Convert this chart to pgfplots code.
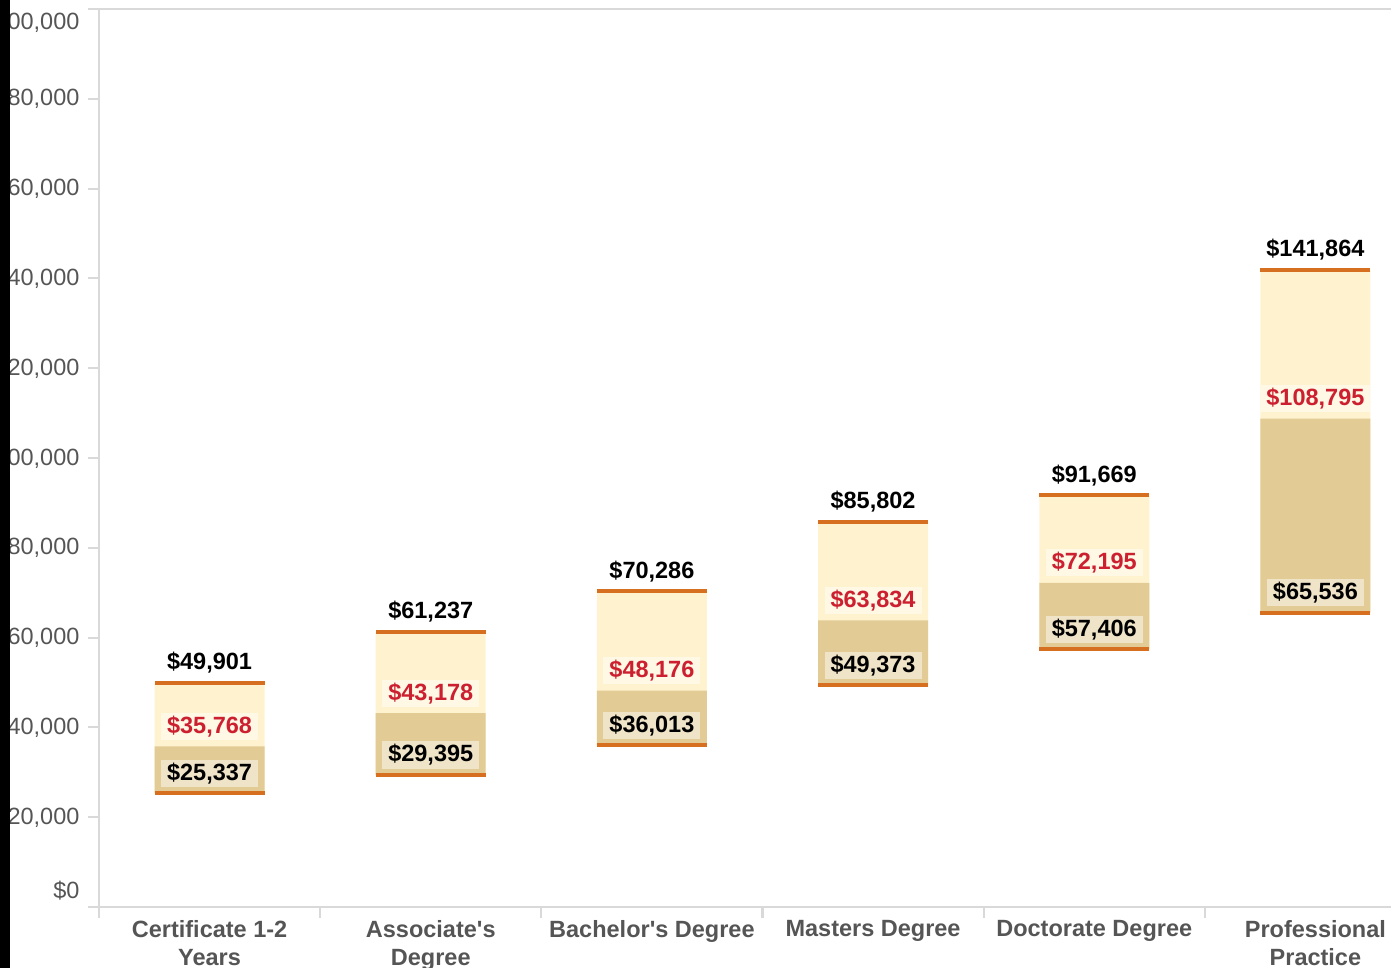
\documentclass[border=0pt]{standalone}
\usepackage{fontspec}
\setmainfont{Liberation Sans}
\usepackage{pgfplots}
\usepackage{pgfplotstable}
\pgfplotsset{compat=1.18}
\definecolor{cream}{RGB}{255,242,206}
\definecolor{tanb}{RGB}{227,203,150}
\definecolor{orng}{RGB}{214,112,32}
\definecolor{medred}{RGB}{204,32,48}
\definecolor{axgray}{RGB}{217,217,217}
\definecolor{lblgray}{RGB}{85,85,85}
\definecolor{lowbg}{RGB}{240,228,200}
\definecolor{medbg}{RGB}{255,248,228}

\pgfplotstableread{
x low med high
0 25337 35768 49901
1 29395 43178 61237
2 36013 48176 70286
3 49373 63834 85802
4 57406 72195 91669
5 65536 108795 141864
}\salary

\newcommand{\lblfont}{\fontsize{11.75}{14}\selectfont\bfseries}
\pgfkeys{/pgf/number format/.cd, fixed, precision=0, 1000 sep={,}, assume math mode=true}

\begin{document}
\begin{tikzpicture}
\begin{axis}[name=ax, scale only axis, width=663.5pt, height=449pt,
  xmin=-0.5, xmax=5.5, ymin=0, ymax=200000,
  axis on top,
  axis line style={axgray, line width=1pt},
  tick style={axgray, line width=1pt},
  tick align=outside, major tick length=5.25pt,
  tick pos=left,
  xtick={-0.5,0.5,...,5.5},
  x tick label as interval,
  xticklabels={{Certificate 1-2\\Years},{Associate\textquotesingle s\\Degree},{Bachelor\textquotesingle s Degree},{Masters Degree},{Doctorate Degree},{Professional\\Practice}},
  xticklabel style={font=\fontsize{11.75}{14}\selectfont\bfseries, text=lblgray, align=center, yshift=2pt},
  ytick={0,20000,...,200000},
  yticklabels={{\raisebox{8pt}[\height][\depth]{\$0}},{\$20,000},{\$40,000},{\$60,000},{\$80,000},{\$100,000},{\$120,000},{\$140,000},{\$160,000},{\$180,000},{\raisebox{-6.5pt}[\height][\depth]{\$200,000}}},
  yticklabel style={font=\fontsize{11.75}{14}\selectfont, text=lblgray, xshift=-1pt},
]
% upper half (median to high), lower half (low to median); white below low
\addplot[ybar, bar width=55pt, bar shift=0pt, draw=none, fill=cream] table[x=x, y=high]{\salary};
\addplot[ybar, bar width=55pt, bar shift=0pt, draw=none, fill=tanb] table[x=x, y=med]{\salary};
\addplot[ybar, bar width=56.5pt, bar shift=0pt, draw=none, fill=white] table[x=x, y=low]{\salary};

\addplot[only marks, mark=-, mark size=27.5pt, mark options={orng, line width=2pt},
  point meta=y, nodes near coords={\$\pgfmathprintnumber{\pgfplotspointmeta}},
  every node near coord/.append style={anchor=center, yshift=10pt, font=\lblfont, text=black, fill=lowbg, inner xsep=3pt, inner ysep=1.5pt}]
  table[x=x, y=low]{\salary};
\addplot[only marks, mark=none,
  point meta=y, nodes near coords={\$\pgfmathprintnumber{\pgfplotspointmeta}},
  every node near coord/.append style={anchor=center, yshift=10pt, font=\lblfont, text=medred, fill=medbg, inner xsep=3pt, inner ysep=1.5pt}]
  table[x=x, y=med]{\salary};
\addplot[only marks, mark=-, mark size=27.5pt, mark options={orng, line width=2pt},
  point meta=y, nodes near coords={\$\pgfmathprintnumber{\pgfplotspointmeta}},
  every node near coord/.append style={anchor=center, yshift=10pt, font=\lblfont, text=black}]
  table[x=x, y=high]{\salary};
\end{axis}
\pgfresetboundingbox
\path[use as bounding box] ([xshift=-49.5pt,yshift=-30.5pt]ax.south west) rectangle ([xshift=646pt,yshift=4.5pt]ax.north west);
\fill[black] ([xshift=-49.5pt,yshift=-30.5pt]ax.south west) rectangle ([xshift=-44.5pt,yshift=4.5pt]ax.north west);
\end{tikzpicture}
\end{document}
